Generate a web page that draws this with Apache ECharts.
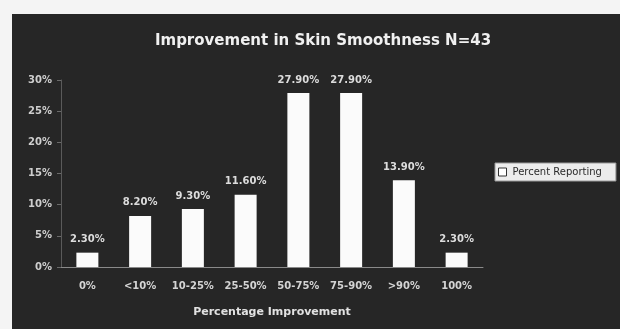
<!DOCTYPE html>
<html>
<head>
<meta charset="utf-8">
<script src="https://cdn.jsdelivr.net/npm/echarts@6/dist/echarts.min.js"></script>
<style>
  html, body { margin: 0; padding: 0; background: #f4f4f4; }
  #chart { width: 620px; height: 329px; }
</style>
</head>
<body>
<div id="chart"></div>
<script>
// Share of respondents per improvement bracket
const categories = ['0%', '<10%', '10-25%', '25-50%', '50-75%', '75-90%', '>90%', '100%'];
const percentReporting = [2.3, 8.2, 9.3, 11.6, 27.9, 27.9, 13.9, 2.3];
const yTicks = [0, 5, 10, 15, 20, 25, 30];

const chart = echarts.init(document.getElementById('chart'), null, { renderer: 'canvas' });

const textFont = 'DejaVu Sans';

chart.setOption({
  animation: false,
  backgroundColor: '#f4f4f4',
  graphic: [{
    type: 'rect',
    z: -10,
    shape: { x: 12, y: 14, width: 608, height: 315 },
    style: { fill: '#262626' }
  }],
  title: {
    text: 'Improvement in Skin Smoothness N=43',
    left: 318,
    top: 29,
    textAlign: 'center',
    textStyle: { color: '#f0f0f0', fontFamily: textFont, fontWeight: 'bold', fontSize: 15 }
  },
  legend: {
    data: ['Percent Reporting'],
    left: 495,
    top: 163,
    padding: [4, 14, 4, 3],
    itemGap: 2,
    itemWidth: 8,
    itemHeight: 8,
    icon: 'rect',
    backgroundColor: '#ececec',
    borderColor: '#9a9a9a',
    borderWidth: 1,
    borderRadius: 0,
    itemStyle: { color: '#ffffff', borderColor: '#333', borderWidth: 1 },
    textStyle: { color: '#2a2a2a', fontFamily: textFont, fontSize: 10, padding: [0, 0, 0, 1] }
  },
  grid: { left: 61, right: 137, top: 80, bottom: 62 },
  xAxis: {
    type: 'category',
    data: categories,
    name: 'Percentage Improvement',
    nameLocation: 'middle',
    nameGap: 40,
    nameTextStyle: { color: '#e2e2e2', fontFamily: textFont, fontWeight: 'bold', fontSize: 11 },
    axisLine: { lineStyle: { color: '#8a8a8a', width: 1 } },
    axisTick: { show: false },
    axisLabel: { color: '#d4d4d4', fontFamily: textFont, fontWeight: 'bold', fontSize: 10, margin: 14, interval: 0 }
  },
  yAxis: {
    type: 'value',
    min: yTicks[0],
    max: yTicks[yTicks.length - 1],
    interval: 5,
    splitLine: { show: false },
    axisLine: { show: true, lineStyle: { color: '#5a5a5a', width: 1 } },
    axisTick: { show: true, length: 4, inside: false, lineStyle: { color: '#6a6a6a' } },
    axisLabel: {
      color: '#cecece', fontFamily: textFont, fontWeight: 'bold', fontSize: 10, margin: 9,
      formatter: v => v + '%'
    }
  },
  series: [{
    name: 'Percent Reporting',
    type: 'bar',
    data: percentReporting,
    barWidth: 22,
    itemStyle: { color: '#fbfbfb' },
    label: {
      show: true,
      position: 'top',
      distance: 8,
      color: '#dcdcdc',
      fontFamily: textFont,
      fontWeight: 'bold',
      fontSize: 10,
      formatter: p => p.value.toFixed(2) + '%'
    }
  }]
});
</script>
</body>
</html>
